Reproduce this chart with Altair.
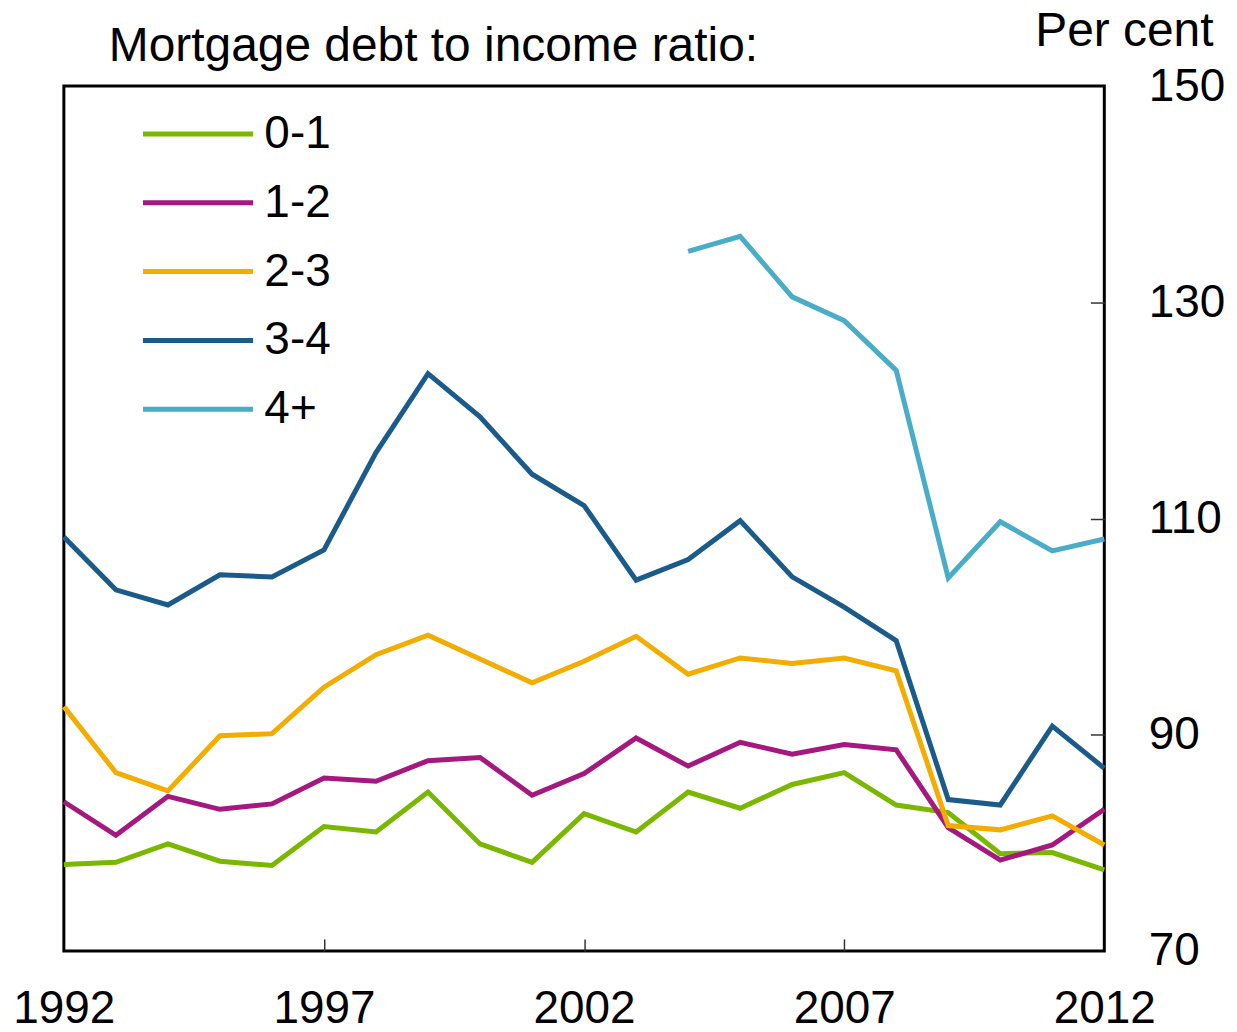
import altair as alt
import pandas as pd

# Mortgage debt to income ratio by group (per cent)
years = list(range(1992, 2013))
groups = ["0-1", "1-2", "2-3", "3-4", "4+"]
colors = ["#7ab800", "#a4187f", "#f2ad00", "#1b5b8a", "#4aadc8"]

ratio_0_1 = [78.0, 78.2, 79.9, 78.3, 77.9, 81.5, 81.0, 84.7, 79.9, 78.2, 82.7,
             81.0, 84.7, 83.2, 85.4, 86.5, 83.5, 82.8, 79.0, 79.1, 77.5]
ratio_1_2 = [83.8, 80.7, 84.3, 83.1, 83.6, 86.0, 85.7, 87.6, 87.9, 84.4, 86.4,
             89.7, 87.1, 89.3, 88.2, 89.1, 88.6, 81.4, 78.4, 79.8, 83.1]
ratio_2_3 = [92.6, 86.5, 84.8, 89.9, 90.1, 94.4, 97.4, 99.2, 97.0, 94.8, 96.8,
             99.1, 95.6, 97.1, 96.6, 97.1, 95.9, 81.6, 81.2, 82.5, 79.8]
ratio_3_4 = [108.3, 103.4, 102.0, 104.8, 104.6, 107.1, 116.1, 123.4, 119.4, 114.1, 111.2,
             104.3, 106.2, 109.8, 104.6, 101.8, 98.7, 84.0, 83.5, 90.8, 86.9]
years_4_plus = list(range(2004, 2013))
ratio_4_plus = [134.7, 136.1, 130.5, 128.3, 123.7, 104.5, 109.7, 107.0, 108.1]

x_labels = [1992, 1997, 2002, 2007, 2012]
x_ticks = [1997, 2002, 2007]
y_labels = [70, 90, 110, 130, 150]
y_ticks = [90, 110, 130]

series = [
    ("0-1", years, ratio_0_1),
    ("1-2", years, ratio_1_2),
    ("2-3", years, ratio_2_3),
    ("3-4", years, ratio_3_4),
    ("4+", years_4_plus, ratio_4_plus),
]
df = pd.concat(
    [pd.DataFrame({"year": yr, "ratio": vals, "group": g}) for g, yr, vals in series],
    ignore_index=True,
)

W, H = 1043, 867
FONT = "Liberation Sans"
LINE_W = 5

x_scale = alt.Scale(domain=[1992, 2012], nice=False, zero=False)
y_scale = alt.Scale(domain=[70, 150], nice=False, zero=False)

# Lines, with the label axes (bottom years, right-hand per cent)
lines = (
    alt.Chart(df)
    .mark_line(strokeWidth=LINE_W)
    .encode(
        x=alt.X(
            "year:Q",
            scale=x_scale,
            axis=alt.Axis(orient="bottom", values=x_labels, format="d", ticks=False, tickSize=0,
                          domain=False, grid=False, labelFontSize=46, labelPadding=36,
                          labelFlush=False, labelOverlap=False, title=None),
        ),
        y=alt.Y(
            "ratio:Q",
            scale=y_scale,
            axis=alt.Axis(orient="right", values=y_labels, ticks=False, tickSize=0,
                          domain=False, grid=False, labelFontSize=46, labelPadding=44,
                          labelOverlap=False, title="Per cent", titleAngle=0,
                          titleAlign="right", titleBaseline="alphabetic", titleX=109,
                          titleY=-41, titleFontSize=48, titleFontWeight="normal"),
        ),
        color=alt.Color(
            "group:N",
            scale=alt.Scale(domain=groups, range=colors),
            legend=alt.Legend(title=None, orient="none", legendX=109, legendY=22.5,
                              symbolType="M-2.4,0H2.4", symbolSize=2116,
                              symbolStrokeWidth=LINE_W, symbolOffset=0, labelFontSize=46,
                              labelOffset=41, rowPadding=20, padding=0,
                              labelColor="black", labelLimit=0),
        ),
    )
)

# Invisible layer that carries the inward-pointing tick axes and the main title
ticks = (
    alt.Chart(df)
    .mark_line(opacity=0)
    .encode(
        x=alt.X(
            "year:Q",
            scale=x_scale,
            axis=alt.Axis(orient="top", offset=-H, values=x_ticks, labels=False, domain=False,
                          grid=False, tickSize=12, tickWidth=1.5, tickColor="#333333",
                          title="Mortgage debt to income ratio:", titleAngle=0,
                          titleAlign="left", titleBaseline="alphabetic", titleX=44.5,
                          titleY=-H - 26, titleFontSize=48, titleFontWeight="normal"),
        ),
        y=alt.Y(
            "ratio:Q",
            scale=y_scale,
            axis=alt.Axis(orient="left", offset=-W, values=y_ticks, labels=False, domain=False,
                          grid=False, tickSize=14, tickWidth=1.5, tickColor="#333333",
                          title=None),
        ),
    )
)

chart = (
    alt.layer(ticks, lines)
    .resolve_axis(x="independent", y="independent")
    .properties(
        width=W,
        height=H,
        autosize=alt.AutoSizeParams(type="none"),
        padding={"left": 56, "top": 77, "right": 125, "bottom": 80},
        background="#ffffff",
    )
    .configure_view(stroke="black", strokeWidth=3)
    .configure_axis(labelFont=FONT, titleFont=FONT, labelColor="black", titleColor="black")
    .configure_legend(labelFont=FONT)
)

chart.save("out.html", embed_options={"renderer": "svg", "actions": False})
